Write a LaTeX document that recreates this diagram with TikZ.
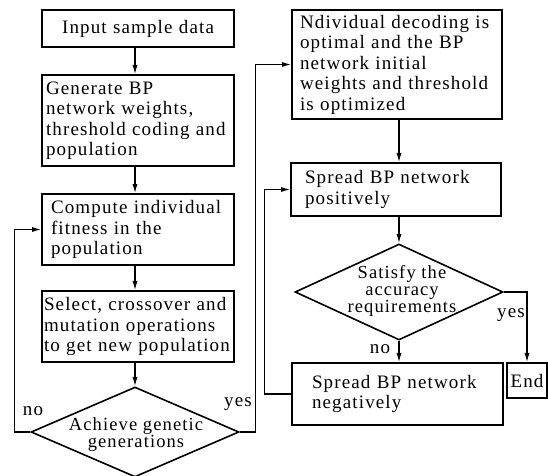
\documentclass[tikz,border=0pt]{standalone}
\usepackage{fontspec}
\setmainfont{Liberation Serif}[LetterSpace=6]
\usetikzlibrary{arrows.meta,shapes.geometric}
\tikzset{
  base/.style={font=\fontsize{19}{20.5}\selectfont},
  stepbox/.style={base, draw, line width=1.6pt, align=left, inner ysep=0pt},
  decision/.style={draw, diamond, line width=1.6pt, inner sep=0pt},
  dtext/.style={align=center, font=\fontsize{18.5}{17}\selectfont},
  flow/.style={line width=1.3pt, -{Latex[length=9pt,width=5pt]}},
  tag/.style={base}
}
\begin{document}
\begin{tikzpicture}[x=1pt,y=-1pt]
\useasboundingbox (0,0) rectangle (548,475);
% left column: genetic search
\node[stepbox, text width=180pt, inner xsep=6pt, align=center, minimum height=37pt] (b1) at (138,28.5) {Input sample data};
\node[stepbox, text width=184pt, inner xsep=4pt, minimum height=91pt] (b2) at (138,120.5) {Generate BP\\network weights,\\threshold coding and\\population};
\node[stepbox, text width=174pt, inner xsep=9pt, minimum height=71pt] (b3) at (138,229.5) {Compute individual\\fitness in the\\population};
\node[stepbox, text width=188pt, inner xsep=2pt, minimum height=71pt] (b4) at (138,326.5) {Select, crossover and\\mutation operations\\to get new population};
\node[decision, minimum width=208pt, minimum height=90pt] (d1) at (135,432) {};
\node[dtext] (d1t) at (136,435) {Achieve genetic\\generations};
% right column: BP training
\node[stepbox, text width=194pt, inner xsep=8pt, minimum height=109pt] (b5) at (397,64.5) {Ndividual decoding is\\optimal and the BP\\network initial\\weights and threshold\\is optimized};
\node[stepbox, text width=182pt, inner xsep=14pt, minimum height=53pt] (b6) at (396,189.5) {Spread BP network\\positively};
\node[decision, minimum width=208pt, minimum height=96pt] (d2) at (399,292) {};
\node[dtext] (d2t) at (402,291) {Satisfy the\\accuracy\\requirements};
\node[stepbox, text width=171pt, inner xsep=20pt, minimum height=62pt] (b7) at (397.5,394) {Spread BP network\\negatively};
\node[stepbox, text width=36pt, inner xsep=2pt, align=center, minimum height=35pt] (end) at (527,380.5) {End};
% connectors
\draw[flow] (b1.south -| d1.north) -- (b2.north -| d1.north);
\draw[flow] (b2.south -| d1.north) -- (b3.north -| d1.north);
\draw[flow] (b3.south -| d1.north) -- (b4.north -| d1.north);
\draw[flow] (b4.south -| d1.north) -- (d1.north);
\draw[flow] (d1.west) -- ++(-16,0) |- (b3.west);
\draw[flow] (d1.east) -- ++(16,0) |- (b5.west);
\draw[flow] (b5.south -| d2.north) -- (b6.north -| d2.north);
\draw[flow] (b6.south -| d2.north) -- (d2.north);
\draw[flow] (d2.south) -- (b7.north -| d2.south);
\draw[flow] (b7.west) -- ++(-27,0) |- (b6.west);
\draw[flow] (d2.east) -| (end.north);
% branch labels
\node[tag] (lno1) at (33,411) {no};
\node[tag] (lyes1) at (238,404) {yes};
\node[tag] (lno2) at (380,349) {no};
\node[tag] (lyes2) at (511,315) {yes};
\end{tikzpicture}
\end{document}
